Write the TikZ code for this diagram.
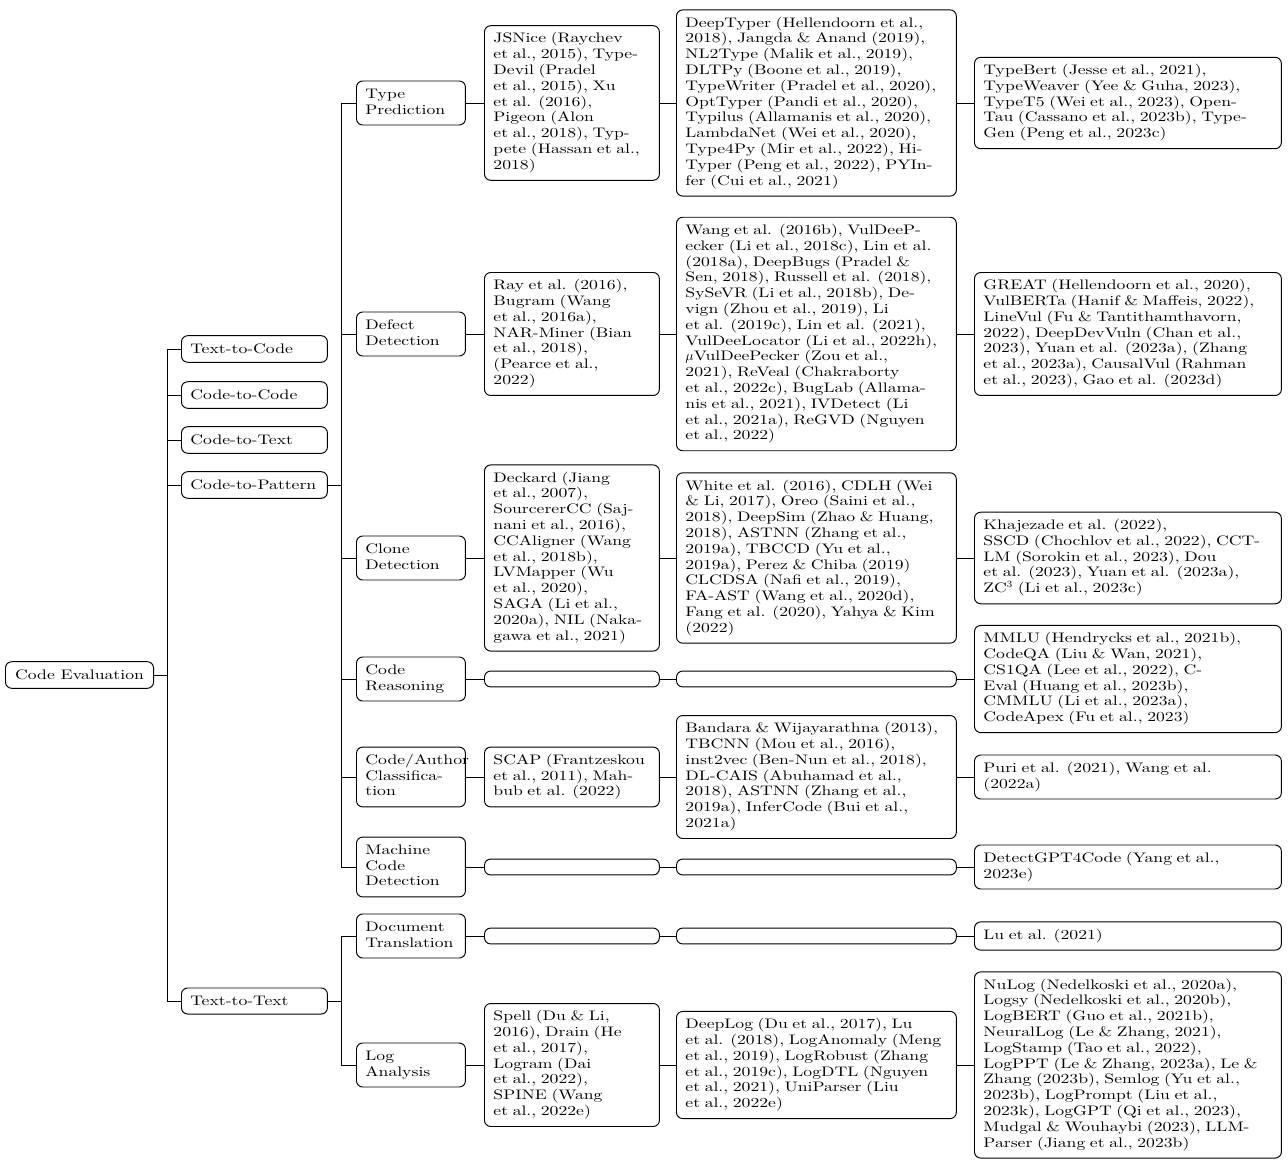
\documentclass[tikz,border=0pt]{standalone}
\usepackage{fontspec}
\setmainfont{lmroman10-regular.otf}[FakeStretch=1.28]
\usepackage{tikz}

\newcommand{\stack}[1]{\begin{tabular}{@{}l@{}}#1\end{tabular}}

\begin{document}
\begin{tikzpicture}[
    x=0.725pt, y=-0.725pt,
    box/.style={rectangle, draw, rounded corners=4.5pt, line width=0.7pt, align=left, anchor=west, inner xsep=6.5pt, inner ysep=4.5pt, font=\fontsize{10}{11.45}\selectfont},
    rootbox/.style={box, inner xsep=7pt, inner ysep=6pt},
    taskbox/.style={box, text width=92.8pt, inner ysep=6pt},
    subbox/.style={box, text width=66pt},
    leafa/.style={box, text width=113.8pt},
    leafb/.style={box, text width=189.9pt},
    leafc/.style={box, text width=209.5pt},
    blank/.style={minimum height=11.5pt},
    edge/.style={draw, line width=0.7pt},
]
\useasboundingbox (0,0) rectangle (1288,1168);

% Root
\node[rootbox] (ce) at (5,675) {Code Evaluation};

% Level 1: task kinds
\node[taskbox] (t2c) at (181,349) {Text-to-Code};
\node[taskbox] (c2c) at (181,395) {Code-to-Code};
\node[taskbox] (c2t) at (181,440) {Code-to-Text};
\node[taskbox] (c2p) at (181,485) {Code-to-Pattern};
\node[taskbox] (t2t) at (181,1001) {Text-to-Text};
\foreach \n in {t2c,c2c,c2t,c2p,t2t}
    \draw[edge] (ce.east) -- ++(13,0) |- (\n.west);

% Level 2: Code-to-Pattern tasks
\node[subbox] (tp) at (356,103) {\stack{Type\\Prediction}};
\node[subbox] (dd) at (356,334) {\stack{Defect\\Detection}};
\node[subbox] (cd) at (356,558) {\stack{Clone\\Detection}};
\node[subbox] (cr) at (356,679) {\stack{Code\\Reasoning}};
\node[subbox] (ca) at (356,777) {\stack{Code/Author\\Classifica-\\tion}};
\node[subbox] (mc) at (356,867) {\stack{Machine\\Code\\Detection}};
\foreach \n in {tp,dd,cd,cr,ca,mc}
    \draw[edge] (c2p.east) -- ++(14,0) |- (\n.west);

% Level 2: Text-to-Text tasks
\node[subbox] (dt) at (356,936) {\stack{Document\\Translation}};
\node[subbox] (la) at (356,1065) {\stack{Log\\Analysis}};
\foreach \n in {dt,la}
    \draw[edge] (t2t.east) -- ++(14,0) |- (\n.west);

% Type prediction
\node[leafa] (tpa) at (484,103) {\stack{JSNice (Raychev\\et al., 2015), Type-\\Devil (Pradel\\et al., 2015), Xu\\et al. (2016),\\Pigeon (Alon\\et al., 2018), Typ-\\pete (Hassan et al.,\\2018)}};
\node[leafb] (tpb) at (676,103) {\stack{DeepTyper (Hellendoorn et al.,\\2018), Jangda \& Anand (2019),\\NL2Type (Malik et al., 2019),\\DLTPy (Boone et al., 2019),\\TypeWriter (Pradel et al., 2020),\\OptTyper (Pandi et al., 2020),\\Typilus (Allamanis et al., 2020),\\LambdaNet (Wei et al., 2020),\\Type4Py (Mir et al., 2022), Hi-\\Typer (Peng et al., 2022), PYIn-\\fer (Cui et al., 2021)}};
\node[leafc] (tpc) at (974,103) {\stack{TypeBert (Jesse et al., 2021),\\TypeWeaver (Yee \& Guha, 2023),\\TypeT5 (Wei et al., 2023), Open-\\Tau (Cassano et al., 2023b), Type-\\Gen (Peng et al., 2023c)}};
\draw[edge] (tp.east) -- (tpa.west) (tpa.east) -- (tpb.west) (tpb.east) -- (tpc.west);

% Defect detection
\node[leafa] (dda) at (484,334) {\stack{Ray et al. (2016),\\Bugram (Wang\\et al., 2016a),\\NAR-Miner (Bian\\et al., 2018),\\(Pearce et al.,\\2022)}};
\node[leafb] (ddb) at (676,334) {\stack{Wang et al. (2016b), VulDeeP-\\ecker (Li et al., 2018c), Lin et al.\\(2018a), DeepBugs (Pradel \&\\Sen, 2018), Russell et al. (2018),\\SySeVR (Li et al., 2018b), De-\\vign (Zhou et al., 2019), Li\\et al. (2019c), Lin et al. (2021),\\VulDeeLocator (Li et al., 2022h),\\$\mu$VulDeePecker (Zou et al.,\\2021), ReVeal (Chakraborty\\et al., 2022c), BugLab (Allama-\\nis et al., 2021), IVDetect (Li\\et al., 2021a), ReGVD (Nguyen\\et al., 2022)}};
\node[leafc] (ddc) at (974,334) {\stack{GREAT (Hellendoorn et al., 2020),\\VulBERTa (Hanif \& Maffeis, 2022),\\LineVul (Fu \& Tantithamthavorn,\\2022), DeepDevVuln (Chan et al.,\\2023), Yuan et al. (2023a), (Zhang\\et al., 2023a), CausalVul (Rahman\\et al., 2023), Gao et al. (2023d)}};
\draw[edge] (dd.east) -- (dda.west) (dda.east) -- (ddb.west) (ddb.east) -- (ddc.west);

% Clone detection
\node[leafa] (cda) at (484,558) {\stack{Deckard (Jiang\\et al., 2007),\\SourcererCC (Saj-\\nani et al., 2016),\\CCAligner (Wang\\et al., 2018b),\\LVMapper (Wu\\et al., 2020),\\SAGA (Li et al.,\\2020a), NIL (Naka-\\gawa et al., 2021)}};
\node[leafb] (cdb) at (676,558) {\stack{White et al. (2016), CDLH (Wei\\\& Li, 2017), Oreo (Saini et al.,\\2018), DeepSim (Zhao \& Huang,\\2018), ASTNN (Zhang et al.,\\2019a), TBCCD (Yu et al.,\\2019a), Perez \& Chiba (2019)\\CLCDSA (Nafi et al., 2019),\\FA-AST (Wang et al., 2020d),\\Fang et al. (2020), Yahya \& Kim\\(2022)}};
\node[leafc] (cdc) at (974,558) {\stack{Khajezade et al. (2022),\\SSCD (Chochlov et al., 2022), CCT-\\LM (Sorokin et al., 2023), Dou\\et al. (2023), Yuan et al. (2023a),\\ZC$^3$ (Li et al., 2023c)}};
\draw[edge] (cd.east) -- (cda.west) (cda.east) -- (cdb.west) (cdb.east) -- (cdc.west);

% Code reasoning
\node[leafa, blank] (cra) at (484,679) {};
\node[leafb, blank] (crb) at (676,679) {};
\node[leafc] (crc) at (974,679) {\stack{MMLU (Hendrycks et al., 2021b),\\CodeQA (Liu \& Wan, 2021),\\CS1QA (Lee et al., 2022), C-\\Eval (Huang et al., 2023b),\\CMMLU (Li et al., 2023a),\\CodeApex (Fu et al., 2023)}};
\draw[edge] (cr.east) -- (cra.west) (cra.east) -- (crb.west) (crb.east) -- (crc.west);

% Code/author classification
\node[leafa] (caa) at (484,777) {\stack{SCAP (Frantzeskou\\et al., 2011), Mah-\\bub et al. (2022)}};
\node[leafb] (cab) at (676,777) {\stack{Bandara \& Wijayarathna (2013),\\TBCNN (Mou et al., 2016),\\inst2vec (Ben-Nun et al., 2018),\\DL-CAIS (Abuhamad et al.,\\2018), ASTNN (Zhang et al.,\\2019a), InferCode (Bui et al.,\\2021a)}};
\node[leafc] (cac) at (974,777) {\stack{Puri et al. (2021), Wang et al.\\(2022a)}};
\draw[edge] (ca.east) -- (caa.west) (caa.east) -- (cab.west) (cab.east) -- (cac.west);

% Machine code detection
\node[leafa, blank] (mca) at (484,867) {};
\node[leafb, blank] (mcb) at (676,867) {};
\node[leafc] (mcc) at (974,867) {\stack{DetectGPT4Code (Yang et al.,\\2023e)}};
\draw[edge] (mc.east) -- (mca.west) (mca.east) -- (mcb.west) (mcb.east) -- (mcc.west);

% Document translation
\node[leafa, blank] (dta) at (484,936) {};
\node[leafb, blank] (dtb) at (676,936) {};
\node[leafc] (dtc) at (974,936) {\stack{Lu et al. (2021)}};
\draw[edge] (dt.east) -- (dta.west) (dta.east) -- (dtb.west) (dtb.east) -- (dtc.west);

% Log analysis
\node[leafa] (laa) at (484,1065) {\stack{Spell (Du \& Li,\\2016), Drain (He\\et al., 2017),\\Logram (Dai\\et al., 2022),\\SPINE (Wang\\et al., 2022e)}};
\node[leafb] (lab) at (676,1065) {\stack{DeepLog (Du et al., 2017), Lu\\et al. (2018), LogAnomaly (Meng\\et al., 2019), LogRobust (Zhang\\et al., 2019c), LogDTL (Nguyen\\et al., 2021), UniParser (Liu\\et al., 2022e)}};
\node[leafc] (lac) at (974,1065) {\stack{NuLog (Nedelkoski et al., 2020a),\\Logsy (Nedelkoski et al., 2020b),\\LogBERT (Guo et al., 2021b),\\NeuralLog (Le \& Zhang, 2021),\\LogStamp (Tao et al., 2022),\\LogPPT (Le \& Zhang, 2023a), Le \&\\Zhang (2023b), Semlog (Yu et al.,\\2023b), LogPrompt (Liu et al.,\\2023k), LogGPT (Qi et al., 2023),\\Mudgal \& Wouhaybi (2023), LLM-\\Parser (Jiang et al., 2023b)}};
\draw[edge] (la.east) -- (laa.west) (laa.east) -- (lab.west) (lab.east) -- (lac.west);
\end{tikzpicture}
\end{document}
